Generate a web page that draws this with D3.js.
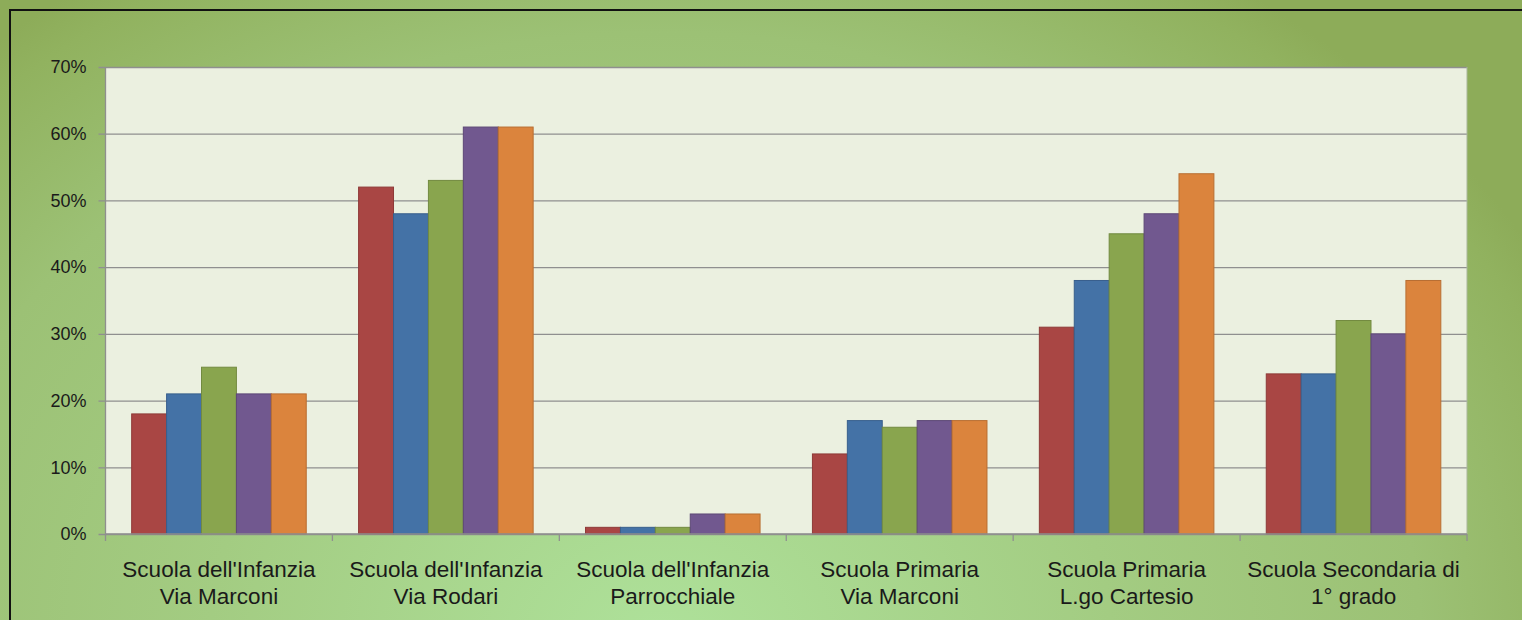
<!DOCTYPE html>
<html>
<head>
<meta charset="utf-8">
<script src="https://cdn.jsdelivr.net/npm/d3@7"></script>
<style>
  html, body { margin: 0; padding: 0; background: #9bbb68; }
  svg { display: block; font-family: "Liberation Sans", Arial, sans-serif; }
</style>
</head>
<body>
<svg id="chart" width="1522" height="620"></svg>
<script>
"use strict";

const categories = [
    ["Scuola dell'Infanzia", "Via Marconi"],
    ["Scuola dell'Infanzia", "Via Rodari"],
    ["Scuola dell'Infanzia", "Parrocchiale"],
    ["Scuola Primaria", "Via Marconi"],
    ["Scuola Primaria", "L.go Cartesio"],
    ["Scuola Secondaria di", "1° grado"]
];
const seriesNames = ["s1", "s2", "s3", "s4", "s5"];
const seriesColors = ["#a94644", "#4472a6", "#89a54e", "#71588f", "#db843d"];
const seriesStrokes = ["#8e3a38", "#385f8c", "#728a40", "#5d4876", "#b86e32"];
const values = [
    [18, 21, 25, 21, 21],
    [52, 48, 53, 61, 61],
    [1, 1, 1, 3, 3],
    [12, 17, 16, 17, 17],
    [31, 38, 45, 48, 54],
    [24, 24, 32, 30, 38]
];
const yTicks = [0, 10, 20, 30, 40, 50, 60, 70];

const svg = d3.select("#chart"),
    W = 1522, H = 620,
    margin = {left: 105.5, right: 55, top: 67, bottom: 86};

// background: lighter toward the bottom centre
const defs = svg.append("defs");
const bg = defs.append("radialGradient")
    .attr("id", "bg")
    .attr("gradientUnits", "userSpaceOnUse")
    .attr("cx", 660).attr("cy", 640)
    .attr("r", 1000)
    .attr("gradientTransform", "translate(660,640) scale(1,0.8) translate(-660,-640)");
bg.append("stop").attr("offset", "0").attr("stop-color", "#aee19a");
bg.append("stop").attr("offset", "0.45").attr("stop-color", "#a3cc82");
bg.append("stop").attr("offset", "0.76").attr("stop-color", "#9cc175");
bg.append("stop").attr("offset", "0.95").attr("stop-color", "#91b25f");
bg.append("stop").attr("offset", "1").attr("stop-color", "#8dac59");

svg.append("rect").attr("width", W).attr("height", H).attr("fill", "url(#bg)");
svg.append("rect")
    .attr("x", 10).attr("y", 10).attr("width", W + 20).attr("height", H + 20)
    .attr("fill", "none").attr("stroke", "#111").attr("stroke-width", 2);

const x0 = d3.scaleBand()
    .domain(d3.range(categories.length))
    .range([margin.left, W - margin.right]);
const x1 = d3.scaleBand()
    .domain(seriesNames)
    .range([0, x0.bandwidth()])
    .paddingOuter(0.75);
const y = d3.scaleLinear()
    .domain([0, 70])
    .range([H - margin.bottom, margin.top]);

const plotW = W - margin.right - margin.left;

svg.append("rect")
    .attr("x", margin.left).attr("y", margin.top)
    .attr("width", plotW).attr("height", y(0) - margin.top)
    .attr("fill", "#ebf0e0");

// gridlines + y axis
const yAxis = d3.axisLeft(y)
    .tickValues(yTicks)
    .tickSize(-plotW)
    .tickPadding(19)
    .tickFormat(d => d + "%");
const gy = svg.append("g")
    .attr("transform", `translate(${margin.left},0)`)
    .call(yAxis);
gy.select(".domain").remove();
gy.selectAll(".tick line")
    .attr("x1", -7)
    .attr("stroke", "#8f8f8f")
    .attr("stroke-width", 1.3);
gy.selectAll(".tick text")
    .attr("fill", "#1a1a1a")
    .attr("font-size", 18);

// plot borders
svg.append("line")
    .attr("x1", margin.left).attr("x2", margin.left)
    .attr("y1", margin.top).attr("y2", y(0))
    .attr("stroke", "#8f8f8f").attr("stroke-width", 1.3);
svg.append("line")
    .attr("x1", W - margin.right).attr("x2", W - margin.right)
    .attr("y1", margin.top).attr("y2", y(0))
    .attr("stroke", "#a9b79a").attr("stroke-width", 1);

// bars
const groups = svg.append("g").selectAll("g")
    .data(values)
    .join("g")
    .attr("transform", (d, i) => `translate(${x0(i)},0)`);
groups.selectAll("rect")
    .data(d => d.map((v, j) => ({v, j})))
    .join("rect")
    .attr("x", d => x1(seriesNames[d.j]))
    .attr("width", x1.bandwidth())
    .attr("y", d => y(d.v))
    .attr("height", d => y(0) - y(d.v))
    .attr("fill", d => seriesColors[d.j])
    .attr("stroke", d => seriesStrokes[d.j])
    .attr("stroke-width", 1);

// x axis
const xAxis = d3.axisBottom(x0).tickSize(0).tickFormat("");
const gx = svg.append("g")
    .attr("transform", `translate(0,${y(0)})`)
    .call(xAxis);
gx.select(".domain")
    .attr("d", `M${margin.left},0H${W - margin.right}`)
    .attr("stroke", "#8f8f8f").attr("stroke-width", 1.3);
gx.selectAll(".tick").remove();
const bounds = d3.range(categories.length + 1)
    .map(i => i < categories.length ? x0(i) : x0(i - 1) + x0.bandwidth());
gx.selectAll(".sep")
    .data(bounds)
    .join("line")
    .attr("class", "sep")
    .attr("x1", d => d).attr("x2", d => d)
    .attr("y1", 0).attr("y2", 7)
    .attr("stroke", "#8f8f8f").attr("stroke-width", 1.3);

const labels = svg.append("g").selectAll("text")
    .data(categories)
    .join("text")
    .attr("x", (d, i) => x0(i) + x0.bandwidth() / 2)
    .attr("y", 577)
    .attr("text-anchor", "middle")
    .attr("font-size", 22.5)
    .attr("fill", "#1a1a1a");
labels.selectAll("tspan")
    .data(d => d)
    .join("tspan")
    .attr("x", function () { return this.parentNode.getAttribute("x"); })
    .attr("dy", (d, i) => i ? 27 : 0)
    .text(d => d);
</script>
</body>
</html>
